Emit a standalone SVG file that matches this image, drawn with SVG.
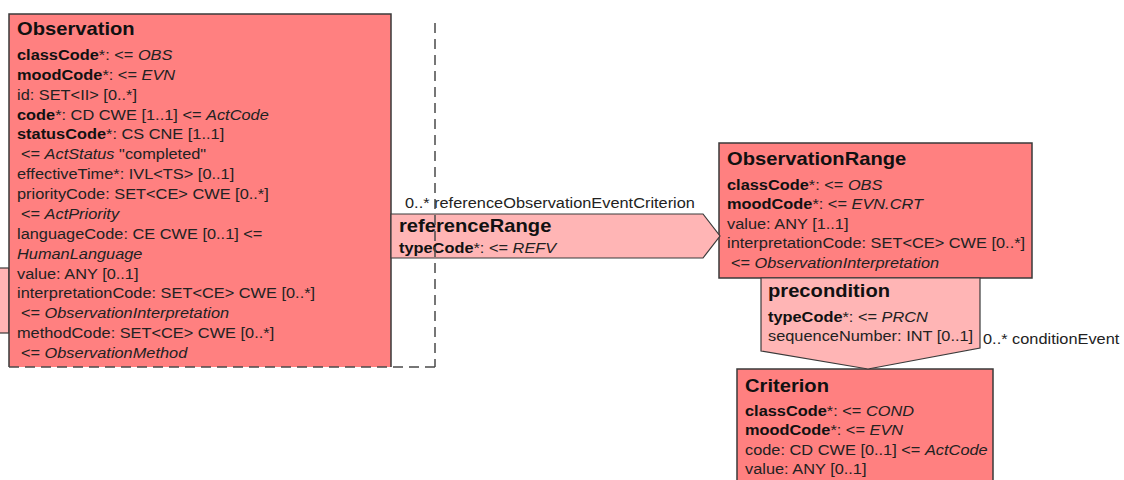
<svg xmlns="http://www.w3.org/2000/svg" width="1124" height="480" viewBox="0 0 1124 480">
<style>
.bg{fill:#ffffff}
.box{fill:#FF8080;stroke:#3a3a3a;stroke-width:1.5}
.boxfill{fill:#FF8080;stroke:none}
.edge{fill:none;stroke:#3a3a3a;stroke-width:1.5}
.assoc{fill:#FFB5B5;stroke:#3a3a3a;stroke-width:1.2}
.dash{fill:none;stroke:#4a4a4a;stroke-width:1.5;stroke-dasharray:10 6}
text{font-family:"Liberation Sans",Arial,Helvetica,sans-serif;font-size:14.6px;fill:#222}
.h{font-size:18px;font-weight:bold;fill:#111}
.b{font-weight:bold;fill:#111}
.i{font-style:italic}
</style>
<rect class="bg" x="0" y="0" width="1124" height="480"/>

<g id="partial-left">
  <rect class="assoc" x="-5" y="268" width="14" height="65"/>
</g>

<g id="Observation">
  <rect class="boxfill" x="9" y="14" width="382" height="353"/>
  <path class="edge" d="M9,367 V14 H391 V367"/>
  <g transform="translate(17,0) scale(1.12,1)">
    <text class="h" x="0" y="35">Observation</text>
    <text x="0" y="60"><tspan class="b">classCode</tspan>*: &lt;= <tspan class="i">OBS</tspan></text>
    <text x="0" y="79.9"><tspan class="b">moodCode</tspan>*: &lt;= <tspan class="i">EVN</tspan></text>
    <text x="0" y="99.7">id: SET&lt;II&gt; [0..*]</text>
    <text x="0" y="119.6"><tspan class="b">code</tspan>*: CD CWE [1..1] &lt;= <tspan class="i">ActCode</tspan></text>
    <text x="0" y="139.5"><tspan class="b">statusCode</tspan>*: CS CNE [1..1]</text>
    <text x="3.5" y="159.4">&lt;= <tspan class="i">ActStatus</tspan> "completed"</text>
    <text x="0" y="179.2">effectiveTime*: IVL&lt;TS&gt; [0..1]</text>
    <text x="0" y="199.1">priorityCode: SET&lt;CE&gt; CWE [0..*]</text>
    <text x="3.5" y="219">&lt;= <tspan class="i">ActPriority</tspan></text>
    <text x="0" y="238.8">languageCode: CE CWE [0..1] &lt;=</text>
    <text x="0" y="258.7"><tspan class="i">HumanLanguage</tspan></text>
    <text x="0" y="278.6">value: ANY [0..1]</text>
    <text x="0" y="298.4">interpretationCode: SET&lt;CE&gt; CWE [0..*]</text>
    <text x="3.5" y="318.3">&lt;= <tspan class="i">ObservationInterpretation</tspan></text>
    <text x="0" y="338.2">methodCode: SET&lt;CE&gt; CWE [0..*]</text>
    <text x="3.5" y="358">&lt;= <tspan class="i">ObservationMethod</tspan></text>
  </g>
</g>

<g id="ObservationRange">
  <rect class="box" x="719" y="143" width="313" height="135"/>
  <g transform="translate(727,0) scale(1.12,1)">
    <text class="h" x="0" y="165">ObservationRange</text>
    <text x="0" y="190"><tspan class="b">classCode</tspan>*: &lt;= <tspan class="i">OBS</tspan></text>
    <text x="0" y="209.5"><tspan class="b">moodCode</tspan>*: &lt;= <tspan class="i">EVN.CRT</tspan></text>
    <text x="0" y="229">value: ANY [1..1]</text>
    <text x="0" y="248.5">interpretationCode: SET&lt;CE&gt; CWE [0..*]</text>
    <text x="3.5" y="268">&lt;= <tspan class="i">ObservationInterpretation</tspan></text>
  </g>
</g>

<g id="Criterion">
  <rect class="box" x="737" y="369" width="256" height="130"/>
  <g transform="translate(745,0) scale(1.12,1)">
    <text class="h" x="0" y="392">Criterion</text>
    <text x="0" y="416"><tspan class="b">classCode</tspan>*: &lt;= <tspan class="i">COND</tspan></text>
    <text x="0" y="435.5"><tspan class="b">moodCode</tspan>*: &lt;= <tspan class="i">EVN</tspan></text>
    <text x="0" y="455">code: CD CWE [0..1] &lt;= <tspan class="i">ActCode</tspan></text>
    <text x="0" y="474.5">value: ANY [0..1]</text>
  </g>
</g>

<g id="connectors">
  <g id="referenceRange">
    <polygon class="assoc" points="391,214 703,214 720,236 703,258 391,258"/>
    <g transform="translate(399,0) scale(1.12,1)">
      <text class="h" x="0" y="232">referenceRange</text>
      <text x="0" y="253"><tspan class="b">typeCode</tspan>*: &lt;= <tspan class="i">REFV</tspan></text>
    </g>
    <g transform="translate(405,0) scale(1.12,1)">
      <text x="0" y="208">0..* referenceObservationEventCriterion</text>
    </g>
  </g>
  <g id="precondition">
    <polygon class="assoc" points="761,278 980,278 980,348 868,369 761,351"/>
    <g transform="translate(768,0) scale(1.12,1)">
      <text class="h" x="0" y="297">precondition</text>
      <text x="0" y="322"><tspan class="b">typeCode</tspan>*: &lt;= <tspan class="i">PRCN</tspan></text>
      <text x="0" y="341.5">sequenceNumber: INT [0..1]</text>
    </g>
    <g transform="translate(983,0) scale(1.12,1)">
      <text x="0" y="344.5">0..* conditionEvent</text>
    </g>
  </g>
  <g id="choice-frame">
    <path class="dash" d="M435,23 V367"/>
    <path class="dash" d="M9,367 H435"/>
  </g>
</g>
</svg>
